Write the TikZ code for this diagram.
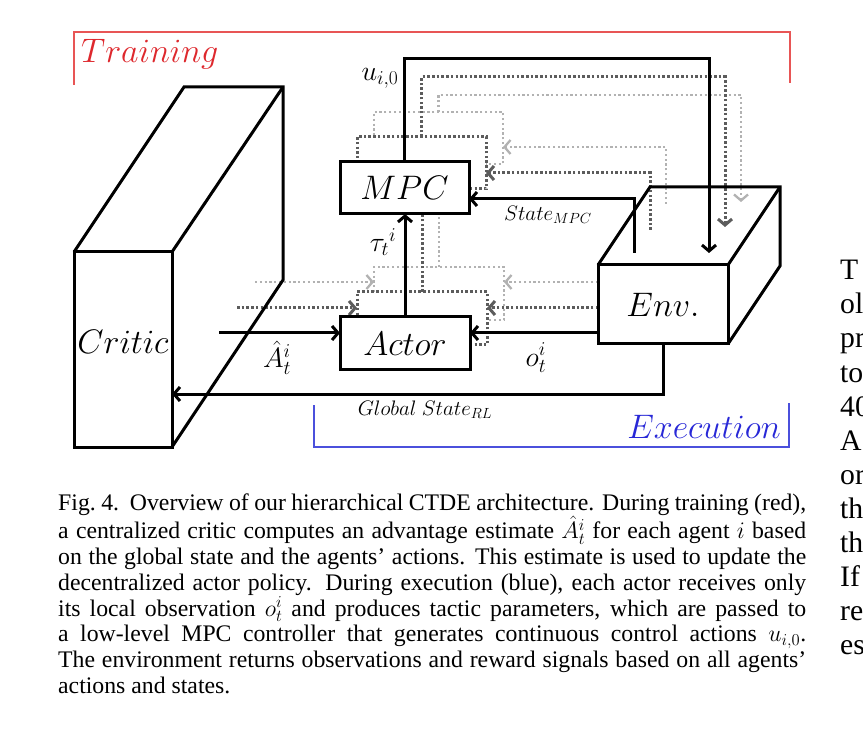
\RequirePackage{fix-cm}
\documentclass[tikz,border=0pt]{standalone}
\usepackage{fontspec}
\setmainfont{Liberation Serif}
\usetikzlibrary{arrows.meta,calc}
\definecolor{trainred}{RGB}{222,40,45}
\definecolor{brred}{RGB}{232,85,85}
\definecolor{execblue}{RGB}{40,40,215}
\definecolor{brblue}{RGB}{75,80,220}
\definecolor{dkgray}{RGB}{92,92,92}
\definecolor{ltgray}{RGB}{178,178,178}
\begin{document}
\begin{tikzpicture}[x=1pt,y=-1pt,
  boxs/.style={draw,line width=3pt,fill=white,inner sep=0pt,outer sep=0pt},
  edgebox/.style={draw,line width=3pt,inner sep=0pt,outer sep=0pt},
  dkbox/.style={draw=dkgray,line width=3pt,dash pattern=on 2.5pt off 2.2pt,fill=white,inner sep=0pt,outer sep=0pt},
  ltbox/.style={draw=ltgray,line width=2.3pt,dash pattern=on 2.2pt off 2.6pt,fill=white,inner sep=0pt,outer sep=0pt},
  conn/.style={line width=3pt,-{Straight Barb[length=6pt,width=14pt]}},
  dkconn/.style={draw=dkgray,line width=3pt,dash pattern=on 2.5pt off 2.2pt,-{Straight Barb[length=6pt,width=14pt]}},
  ltconn/.style={draw=ltgray,line width=2.3pt,dash pattern=on 2.2pt off 2.6pt,-{Straight Barb[length=6pt,width=14pt]}},
  edge3d/.style={line width=3pt,line join=miter},
  bigl/.style={font=\fontsize{34}{40}\selectfont,inner sep=0pt},
  medl/.style={font=\fontsize{28}{32}\selectfont,inner sep=0pt},
  smal/.style={font=\fontsize{21}{24}\selectfont,inner sep=0pt},
  rcol/.style={font=\fontsize{29.7}{34}\selectfont,anchor=base west,inner sep=0pt},
]
\useasboundingbox[fill=white] (0,0) rectangle (863,730);

% ---------- light (back) copies ----------
\node[ltbox,minimum width=129pt,minimum height=52pt] (mpc3) at (438.5,138) {};
\node[ltbox,minimum width=130pt,minimum height=53pt] (actor3) at (439,293.5) {};
\coordinate (u3) at (741,202);
\coordinate (s3) at (666,204);
\coordinate (a3) at (255,282);
\coordinate (o3) at (598,282);
\draw[ltconn] (mpc3.north) |- (u3 |- 0,95) -- (u3);
\draw[ltconn] (s3) |- ([yshift=-9pt]mpc3.east);
\draw[ltconn] (actor3.north) -- (actor3.north |- mpc3.south);
\draw[ltconn] (a3) -- (a3 -| actor3.west);
\draw[ltconn] (o3) -- (o3 -| actor3.east);

% ---------- dark (middle) copies ----------
\node[dkbox,minimum width=129pt,minimum height=52pt] (mpc2) at (421.5,163) {};
\node[dkbox,minimum width=130pt,minimum height=53pt] (actor2) at (422,318.5) {};
\coordinate (u2) at (725,227);
\coordinate (s2) at (650,230);
\coordinate (a2) at (237,308);
\coordinate (o2) at (598,308);
\draw[dkconn] (mpc2.north) |- (u2 |- 0,77) -- (u2);
\draw[dkconn] (s2) |- ([yshift=-10pt]mpc2.east);
\draw[dkconn] (actor2.north) -- (actor2.north |- mpc2.south);
\draw[dkconn] (a2) -- (a2 -| actor2.west);
\draw[dkconn] (o2) -- (o2 -| actor2.east);

% ---------- front ----------
\node[boxs,bigl,minimum width=129pt,minimum height=52pt] (mpc) at (404.5,188) {$MPC$};
\node[boxs,bigl,minimum width=130pt,minimum height=53pt] (actor) at (405,343.5) {$Actor$};
\node[edgebox,bigl,minimum width=130pt,minimum height=79pt] (env) at (663,304.5) {$Env.$};
\node[edgebox,minimum width=98pt,minimum height=195pt] (critic) at (123,349.5) {};
\node[bigl] (criticlbl) at (123,342) {$Critic$};

\draw[edge3d] (critic.north west) -- ++(110,-165) -- ++(99,0) -- ++(0,193) -- (critic.south east);
\draw[edge3d] (critic.north east) -- ++(111,-165);
\draw[edge3d] (env.north west) -- ++(52,-78) -- ++(130,0) -- ++(0,79) -- (env.south east);
\draw[edge3d] (env.north east) -- ++(52,-78);

\coordinate (uT) at (709,253);
\coordinate (sS) at (634,253);
\coordinate (aS) at (219,333);
\coordinate (oS) at (598,333);
\draw[conn] (mpc.north) |- (uT |- 0,59) -- (uT);
\draw[conn] (sS) |- ([yshift=-11pt]mpc.east);
\draw[conn] (actor.north) -- (actor.north |- mpc.south);
\draw[conn] (aS) -- (aS -| actor.west);
\draw[conn] (oS) -- (oS -| actor.east);
\draw[conn] (env.south) |- (critic.east |- 0,394);

% ---------- labels ----------
\node[medl] (ulbl) at (380,78) {$u_{i,0}$};
\node[medl] (taul) at (383,242) {${\tau_t}^{i}$};
\node[medl] (ahat) at (277,358) {$\hat{A}_t^i$};
\node[medl] (olbl) at (536,358) {$o_t^i$};
\node[smal] (smpc) at (548,215) {$State_{MPC}$};
\node[smal] (gsrl) at (425,410) {$Global\ State_{RL}$};

% ---------- brackets ----------
\draw[brred,line width=2pt] (74,85) -- (74,32) -- (790,32) -- (790,83);
\draw[brblue,line width=2pt] (314,405) -- (314,447) -- (789,447) -- (789,403);
\node[bigl,text=trainred,anchor=base west] (trn) at (81,63) {$Training$};
\node[bigl,text=execblue,anchor=base east] (exe) at (781,438) {$Execution$};

% ---------- caption ----------
\node[anchor=base west,inner sep=0pt] (cap) at (58,510) {\parbox[t]{748pt}{\fontsize{23.75}{25.8}\selectfont\hyphenpenalty=10000 \exhyphenpenalty=10000
Fig.~4.\ \ Overview of our hierarchical CTDE architecture. During training (red),\linebreak
a centralized critic computes an advantage estimate $\hat{A}_t^i$ for each agent $i$ based\linebreak
on the global state and the agents' actions. This estimate is used to update the\linebreak
decentralized actor policy. During execution (blue), each actor receives only\linebreak
its local observation $o_t^i$ and produces tactic parameters, which are passed to\linebreak
a low-level MPC controller that generates continuous control actions $u_{i,0}$.\linebreak
The environment returns observations and reward signals based on all agents'\linebreak
actions and states.}};

% ---------- right column (cut off at the page edge) ----------
\node[rcol] (r1) at (840,280) {T};
\node[rcol] (r2) at (840,314) {ol};
\node[rcol] (r3) at (840,348) {pr};
\node[rcol] (r4) at (840,382) {to};
\node[rcol] (r5) at (840,416) {40};
\node[rcol] (r6) at (840,450) {A};
\node[rcol] (r7) at (840,484) {or};
\node[rcol] (r8) at (840,518) {th};
\node[rcol] (r9) at (840,552) {th};
\node[rcol] (r10) at (840,586) {If};
\node[rcol] (r11) at (840,620) {re};
\node[rcol] (r12) at (840,654) {es};
\end{tikzpicture}
\end{document}
